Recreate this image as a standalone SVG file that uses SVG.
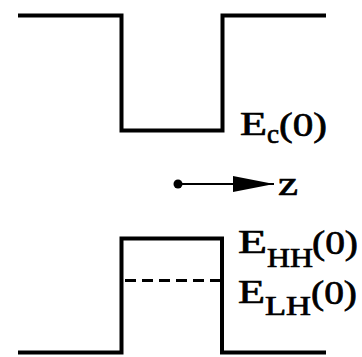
<svg xmlns="http://www.w3.org/2000/svg" width="362" height="357" viewBox="0 0 362 357">
<style>
.band{fill:none;stroke:#000;stroke-width:4;stroke-linejoin:miter}
.dash{fill:none;stroke:#000;stroke-width:3;stroke-dasharray:11 6}
.t{font-family:"Liberation Serif","Times New Roman",serif;font-weight:normal;fill:#000;stroke:#000;stroke-width:0.7}
</style>
<defs>
<marker id="ah" markerWidth="42" markerHeight="20" refX="41" refY="9" orient="auto" markerUnits="userSpaceOnUse">
<path d="M0,1 L41,9 L0,17 Z" fill="#000"/>
</marker>
</defs>
<g id="conduction-band">
<path class="band" d="M18,15.5 H121.5 V130.5 H222.5 V15.5 H326"/>
<text class="t" x="240" y="135" font-size="34" textLength="27" lengthAdjust="spacingAndGlyphs">E</text>
<text class="t" x="267" y="143" font-size="27" textLength="12" lengthAdjust="spacingAndGlyphs">c</text>
<text class="t" x="279" y="136" font-size="34" textLength="48" lengthAdjust="spacingAndGlyphs">(0)</text>
</g>
<g id="valence-band">
<path class="band" d="M18,352.5 H121.5 V238.5 H222 V352.5 H326"/>
<path class="dash" d="M125,280.5 H220"/>
<text class="t" x="238" y="253" font-size="34" textLength="29" lengthAdjust="spacingAndGlyphs">E</text>
<text class="t" x="267" y="267" font-size="27" textLength="46" lengthAdjust="spacingAndGlyphs">HH</text>
<text class="t" x="312" y="254" font-size="34" textLength="46" lengthAdjust="spacingAndGlyphs">(0)</text>
<text class="t" x="238" y="303" font-size="34" textLength="27" lengthAdjust="spacingAndGlyphs">E</text>
<text class="t" x="265" y="315" font-size="27" textLength="46" lengthAdjust="spacingAndGlyphs">LH</text>
<text class="t" x="311" y="304" font-size="34" textLength="46" lengthAdjust="spacingAndGlyphs">(0)</text>
</g>
<g id="connectors">
<circle cx="178" cy="184" r="4.5" fill="#000"/>
<line x1="178" y1="184" x2="274" y2="184" stroke="#000" stroke-width="2" marker-end="url(#ah)"/>
<text class="t" x="278" y="195" font-size="34" textLength="20" lengthAdjust="spacingAndGlyphs">z</text>
</g>
</svg>
